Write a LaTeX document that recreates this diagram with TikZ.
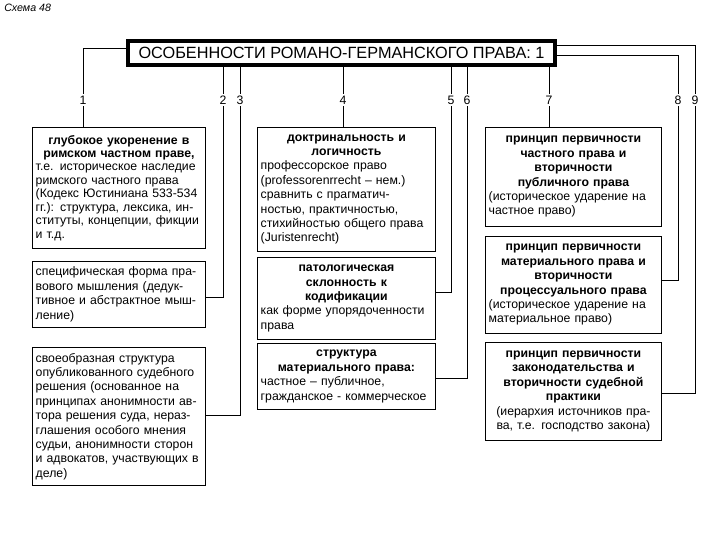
\documentclass[tikz,border=0pt]{standalone}
\usepackage{fontspec}
\setmainfont{Liberation Sans}
\usetikzlibrary{positioning}
\setlength{\parindent}{0pt}
\newcommand{\boldrow}[1]{\makebox[\hsize][c]{\bfseries #1}}
\newcommand{\fillrow}[1]{\makebox[\hsize][s]{#1}}
\newcommand{\midrow}[1]{\makebox[\hsize][c]{#1}}

\begin{document}
\begin{tikzpicture}[x=0.75pt, y=-0.75pt,
  featbox/.style={draw, line width=0.6pt, anchor=north west, inner xsep=2.5pt,
    inner ysep=1pt, align=left, font=\fontsize{9.2}{10.8}\selectfont},
  leftbox/.style={featbox, minimum width=129.75pt, text width=124.75pt},
  midbox/.style={featbox, minimum width=133.5pt, text width=128.5pt},
  rightbox/.style={featbox, minimum width=132pt, text width=127pt},
  titlebox/.style={draw, line width=3pt, fill=white, minimum width=320pt,
    minimum height=18pt, inner sep=0pt, font=\fontsize{12.2}{14}\selectfont},
  numlbl/.style={fill=white, inner sep=1.2pt, font=\fontsize{9.2}{11}\selectfont},
  wire/.style={draw, line width=0.6pt}
]
\useasboundingbox (0,0) rectangle (720,540);

\node[anchor=north west, inner sep=0pt, font=\fontsize{8}{9.5}\selectfont\itshape] (cap) at (4,4) {Схема 48};

\node[titlebox] (title) at (341.5,53) {ОСОБЕННОСТИ РОМАНО-ГЕРМАНСКОГО ПРАВА: 1};

\node[leftbox, minimum height=90.75pt, inner ysep=0.5pt, font=\fontsize{9.2}{10.1}\selectfont] (b1) at (32,127)
  {\boldrow{глубокое укоренение в}\\
   \boldrow{римском частном праве,}\\
   \fillrow{т.е. историческое наследие}\\
   \fillrow{римского частного права}\\
   \fillrow{(Кодекс Юстиниана 533-534}\\
   \fillrow{гг.): структура, лексика, ин-}\\
   \fillrow{ституты, концепции, фикции}\\
   и т.д.};
\node[leftbox, minimum height=49.5pt] (b2) at (32,261)
  {\fillrow{специфическая форма пра-}\\
   \fillrow{вового мышления (дедук-}\\
   \fillrow{тивное и абстрактное мыш-}\\
   ление)};
\node[leftbox, minimum height=103.5pt] (b3) at (32,347)
  {\fillrow{своеобразная структура}\\
   \fillrow{опубликованного судебного}\\
   \fillrow{решения (основанное на}\\
   \fillrow{принципах анонимности ав-}\\
   \fillrow{тора решения суда, нераз-}\\
   \fillrow{глашения особого мнения}\\
   \fillrow{судьи, анонимности сторон}\\
   \fillrow{и адвокатов, участвующих в}\\
   деле)};

\node[midbox, minimum height=93pt] (b4) at (257,127)
  {\boldrow{доктринальность и}\\
   \boldrow{логичность}\\
   профессорское право\\
   (professorenrrecht – нем.)\\
   сравнить с прагматич-\\
   ностью, практичностью,\\
   стихийностью общего права\\
   (Juristenrecht)};
\node[midbox, minimum height=61.5pt] (b5) at (257,257)
  {\boldrow{патологическая}\\
   \boldrow{склонность к}\\
   \boldrow{кодификации}\\
   как форме упорядоченности\\
   права};
\node[midbox, minimum height=49.5pt] (b6) at (257,343)
  {\boldrow{структура}\\
   \boldrow{материального права:}\\
   частное – публичное,\\
   гражданское - коммерческое};

\node[rightbox, minimum height=74.25pt] (b7) at (485,127)
  {\boldrow{принцип первичности}\\
   \boldrow{частного права и}\\
   \boldrow{вторичности}\\
   \boldrow{публичного права}\\
   (историческое ударение на\\
   частное право)};
\node[rightbox, minimum height=72.75pt] (b8) at (485,236)
  {\boldrow{принцип первичности}\\
   \boldrow{материального права и}\\
   \boldrow{вторичности}\\
   \boldrow{процессуального права}\\
   (историческое ударение на\\
   материальное право)};
\node[rightbox, minimum height=73.5pt] (b9) at (485,342)
  {\boldrow{принцип первичности}\\
   \boldrow{законодательства и}\\
   \boldrow{вторичности судебной}\\
   \boldrow{практики}\\
   \midrow{(иерархия источников пра-}\\
   \midrow{ва, т.е. господство закона)}};

\draw[wire] (title.west |- 0,48) -| (b1.north -| 83,0);
\draw[wire] (title.south -| 223,0) |- (b2.east |- 0,297);
\draw[wire] (title.south -| 240,0) |- (b3.east |- 0,415);
\draw[wire] (title.south -| 343,0) -- (b4.north -| 343,0);
\draw[wire] (title.south -| 451,0) |- (b5.east |- 0,292);
\draw[wire] (title.south -| 467,0) |- (b6.east |- 0,378);
\draw[wire] (title.south -| 549,0) -- (b7.north -| 549,0);
\draw[wire] (title.east |- 0,55) -| (678,280) -- (b8.east |- 0,280);
\draw[wire] (title.east |- 0,45) -| (695,393) -- (b9.east |- 0,393);

\node[numlbl] (n1) at (83,100) {1};
\node[numlbl] (n2) at (223,100) {2};
\node[numlbl] (n3) at (240,100) {3};
\node[numlbl] (n4) at (343,100) {4};
\node[numlbl] (n5) at (451,100) {5};
\node[numlbl] (n6) at (467,100) {6};
\node[numlbl] (n7) at (549,100) {7};
\node[numlbl] (n8) at (678,100) {8};
\node[numlbl] (n9) at (695,100) {9};
\end{tikzpicture}
\end{document}
